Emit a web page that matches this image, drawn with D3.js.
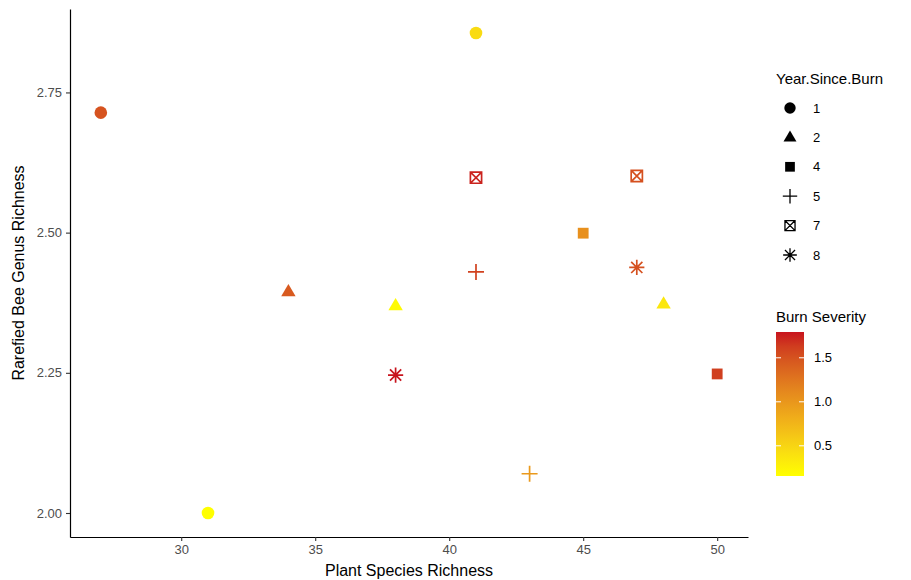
<!DOCTYPE html>
<html>
<head>
<meta charset="utf-8">
<script src="https://cdn.jsdelivr.net/npm/d3@7"></script>
<style>
  body { margin: 0; background: #fff; }
  text { font-family: "Liberation Sans", Arial, sans-serif; }
</style>
</head>
<body>
<div id="container"></div>
<script>
/* DATA */
const plantRichness = [27, 41, 31, 34, 38, 48, 45, 50, 41, 43, 41, 47, 47, 38];
const beeRichness = [2.714, 2.856, 2.0, 2.395, 2.37, 2.373, 2.499, 2.248, 2.43, 2.07, 2.598, 2.601, 2.438, 2.246];
const yearSinceBurn = [1, 1, 1, 2, 2, 2, 4, 4, 5, 5, 7, 7, 8, 8];
const burnSeverity = [1.5, 0.45, 0.157, 1.45, 0.2, 0.35, 1.05, 1.62, 1.6, 0.98, 1.75, 1.52, 1.52, 1.793];
const yearLevels = [1, 2, 4, 5, 7, 8];
const xTicks = [30, 35, 40, 45, 50];
const yTicks = [2.0, 2.25, 2.5, 2.75];
const severityTicks = [0.5, 1.0, 1.5];

/* CONSTANTS */
const width = 911, height = 580;
const margin = { top: 9, left: 70, right: 163, bottom: 43 };

const svg = d3.select("#container")
  .append("svg")
  .attr("width", width)
  .attr("height", height);

// ggplot style 5% expansion
const xExt = d3.extent(plantRichness), yExt = d3.extent(beeRichness);
const xPad = (xExt[1] - xExt[0]) * 0.05, yPad = (yExt[1] - yExt[0]) * 0.05;

const xScale = d3.scaleLinear()
  .domain([xExt[0] - xPad, xExt[1] + xPad])
  .range([margin.left, width - margin.right]);

const yScale = d3.scaleLinear()
  .domain([yExt[0] - yPad, yExt[1] + yPad])
  .range([height - margin.bottom, margin.top]);

const sevExt = d3.extent(burnSeverity);
const colorScale = d3.scaleLinear()
  .domain(sevExt)
  .range(["#FFFF00", "#C8141E"])
  .interpolate(d3.interpolateLab);

// shape paths (centered at 0,0)
function shapePath(year, s) {
  s = s || 1;
  const p = d3.path();
  if (year === 1) {
    const r = 6.3 * s;
    p.moveTo(r, 0); p.arc(0, 0, r, 0, 2 * Math.PI);
  } else if (year === 2) {
    const w = 7.2 * s, h = 12.2 * s;
    p.moveTo(0, -h * 0.62); p.lineTo(w, h * 0.38); p.lineTo(-w, h * 0.38); p.closePath();
  } else if (year === 4) {
    const a = 5.4 * s;
    p.rect(-a, -a, 2 * a, 2 * a);
  } else if (year === 5) {
    const a = 8 * s;
    p.moveTo(-a, 0); p.lineTo(a, 0); p.moveTo(0, -a); p.lineTo(0, a);
  } else if (year === 7) {
    const a = 5.6 * s;
    p.rect(-a, -a, 2 * a, 2 * a);
    p.moveTo(-a, -a); p.lineTo(a, a); p.moveTo(a, -a); p.lineTo(-a, a);
  } else if (year === 8) {
    const a = 7.6 * s, d = 5.6 * s;
    p.moveTo(-a, 0); p.lineTo(a, 0); p.moveTo(0, -a); p.lineTo(0, a);
    p.moveTo(-d, -d); p.lineTo(d, d); p.moveTo(d, -d); p.lineTo(-d, d);
  }
  return p.toString();
}
const isFilled = y => y === 1 || y === 2 || y === 4;

// AXES ----------------------------------------------
const xAxis = svg.append("g")
  .attr("transform", `translate(0,${height - margin.bottom})`)
  .call(d3.axisBottom(xScale).tickValues(xTicks).tickSizeInner(4).tickSizeOuter(0).tickPadding(4).tickFormat(d3.format("d")));

const yAxis = svg.append("g")
  .attr("transform", `translate(${margin.left},0)`)
  .call(d3.axisLeft(yScale).tickValues(yTicks).tickSizeInner(4).tickSizeOuter(0).tickPadding(4).tickFormat(d3.format(".2f")));

[xAxis, yAxis].forEach(ax => {
  ax.select(".domain").attr("stroke", "#000").attr("stroke-width", 1.2);
  ax.selectAll(".tick line").attr("stroke", "#333").attr("stroke-width", 1.1);
  ax.selectAll(".tick text").attr("fill", "#4D4D4D").style("font-size", "13px");
});

// AXIS LABELS ----------------------------------------------
svg.append("text")
  .attr("text-anchor", "middle")
  .attr("x", (margin.left + width - margin.right) / 2)
  .attr("y", 576)
  .style("font-size", "16px")
  .attr("fill", "#000")
  .text("Plant Species Richness");

svg.append("text")
  .attr("text-anchor", "middle")
  .attr("transform", `translate(24,${(margin.top + height - margin.bottom) / 2}) rotate(-90)`)
  .style("font-size", "16px")
  .attr("fill", "#000")
  .text("Rarefied Bee Genus Richness");

// POINTS ----------------------------------------------
const points = plantRichness.map((x, i) => ({
  x, y: beeRichness[i], year: yearSinceBurn[i], sev: burnSeverity[i]
}));

svg.selectAll("path.dot")
  .data(points)
  .join("path")
  .attr("class", "dot")
  .attr("transform", d => `translate(${xScale(d.x)},${yScale(d.y)})`)
  .attr("d", d => shapePath(d.year))
  .attr("fill", d => isFilled(d.year) ? colorScale(d.sev) : "none")
  .attr("stroke", d => isFilled(d.year) ? "none" : colorScale(d.sev))
  .attr("stroke-width", 1.7);

// LEGEND: shapes ----------------------------------------------
svg.append("text")
  .attr("x", 776)
  .attr("y", 84)
  .style("font-size", "15px")
  .text("Year.Since.Burn");

const legendItems = svg.selectAll(".legend-shape")
  .data(yearLevels)
  .join("g")
  .attr("class", "legend-shape")
  .attr("transform", (_, i) => `translate(790,${108 + i * 29.4})`);

legendItems.append("path")
  .attr("d", d => shapePath(d, 0.9))
  .attr("fill", d => isFilled(d) ? "#000" : "none")
  .attr("stroke", d => isFilled(d) ? "none" : "#000")
  .attr("stroke-width", 1.3);

legendItems.append("text")
  .attr("x", 23)
  .attr("dy", "0.35em")
  .style("font-size", "13px")
  .text(d => d);

// LEGEND: colorbar ----------------------------------------------
svg.append("text")
  .attr("x", 776)
  .attr("y", 322)
  .style("font-size", "15px")
  .text("Burn Severity");

const barX = 776, barW = 28, barTop = 332, barBottom = 476;
const barScale = d3.scaleLinear().domain(sevExt).range([barBottom, barTop]);

const grad = svg.append("defs").append("linearGradient")
  .attr("id", "sevGrad")
  .attr("x1", 0).attr("y1", 1).attr("x2", 0).attr("y2", 0);
d3.range(0, 1.0001, 0.1).forEach(t => {
  grad.append("stop")
    .attr("offset", t)
    .attr("stop-color", colorScale(sevExt[0] + t * (sevExt[1] - sevExt[0])));
});

svg.append("rect")
  .attr("x", barX).attr("y", barTop)
  .attr("width", barW).attr("height", barBottom - barTop)
  .attr("fill", "url(#sevGrad)");

const barTicks = svg.selectAll(".bar-tick")
  .data(severityTicks)
  .join("g")
  .attr("class", "bar-tick")
  .attr("transform", d => `translate(0,${barScale(d)})`);

barTicks.append("line")
  .attr("x1", barX).attr("x2", barX + 5)
  .attr("stroke", "#fff").attr("stroke-width", 1);
barTicks.append("line")
  .attr("x1", barX + barW - 5).attr("x2", barX + barW)
  .attr("stroke", "#fff").attr("stroke-width", 1);
barTicks.append("text")
  .attr("x", barX + barW + 10)
  .attr("dy", "0.35em")
  .style("font-size", "13px")
  .text(d => d.toFixed(1));
</script>
</body>
</html>
